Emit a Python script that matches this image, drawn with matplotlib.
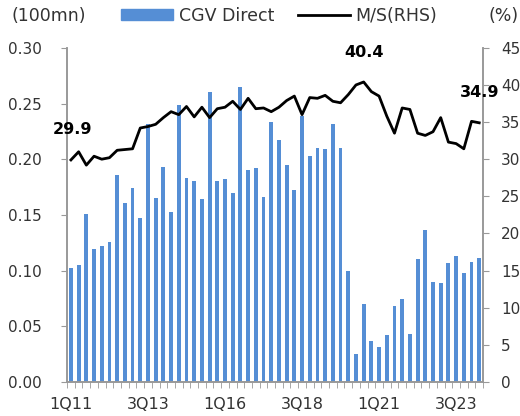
import numpy as np
import matplotlib
matplotlib.use("Agg")
import matplotlib.pyplot as plt
from matplotlib.lines import Line2D
from matplotlib.patches import Patch

plt.rcParams['font.family'] = ['DejaVu Sans']

# quarters 1Q11 .. 2Q24
start_year = 2011
n_q = 54
quarters = ['%dQ%02d' % (i % 4 + 1, (start_year + i // 4) % 100) for i in range(n_q)]

cgv_direct = [0.102, 0.105, 0.151, 0.119, 0.122, 0.126, 0.186, 0.161, 0.174, 0.147,
              0.232, 0.165, 0.193, 0.153, 0.249, 0.183, 0.180, 0.164, 0.260, 0.180,
              0.182, 0.170, 0.265, 0.190, 0.192, 0.166, 0.233, 0.217, 0.195, 0.172,
              0.239, 0.203, 0.210, 0.209, 0.232, 0.210, 0.100, 0.025, 0.070, 0.037,
              0.031, 0.042, 0.068, 0.074, 0.043, 0.110, 0.136, 0.090, 0.089, 0.107,
              0.113, 0.098, 0.108, 0.111]

ms = [29.9, 31.0, 29.2, 30.4, 30.0, 30.2, 31.2, 31.3, 31.4, 34.2,
      34.4, 34.7, 35.6, 36.4, 36.0, 37.1, 35.7, 37.0, 35.6, 36.8,
      37.0, 37.8, 36.7, 38.2, 36.8, 36.9, 36.4, 37.0, 37.9, 38.5,
      36.0, 38.3, 38.2, 38.6, 37.8, 37.6, 38.7, 40.0, 40.4, 39.1,
      38.5, 35.8, 33.5, 36.9, 36.7, 33.5, 33.2, 33.7, 35.6, 32.3,
      32.1, 31.4, 35.1, 34.9]

labels_shown = ['1Q11', '3Q13', '1Q16', '3Q18', '1Q21', '3Q23']

x = np.arange(n_q)
gray = '#999999'
blue = '#558ed5'
txt = '#333333'

fig = plt.figure(figsize=(5.2, 4.16), dpi=100)
ax = fig.add_axes([0.129, 0.082, 0.800, 0.803])
ax2 = ax.twinx()

ax.bar(x, cgv_direct, width=0.5, color=blue, zorder=2)
ax2.plot(x, ms, color='black', lw=2, solid_joinstyle='round', zorder=3)

ax.set_xlim(-0.5, n_q - 0.5)
ax.set_ylim(0, 0.30)
ax.set_yticks(np.arange(0, 0.301, 0.05))
ax.set_yticklabels(['%.2f' % v for v in np.arange(0, 0.301, 0.05)])
ax2.set_ylim(0, 45)
ax2.set_yticks(np.arange(0, 46, 5))

ticks = [quarters.index(q) for q in labels_shown]
ax.set_xticks(ticks)
ax.set_xticklabels(labels_shown)
ax.set_xticks(np.arange(-0.5, n_q, 1), minor=True)
ax.tick_params(axis='x', which='major', length=0, pad=11, labelsize=11.5, labelcolor=txt)
ax.tick_params(axis='x', which='minor', length=4, color=gray, direction='out')
ax.tick_params(axis='y', length=4, color=gray, labelsize=11, pad=14, labelcolor=txt)
ax2.tick_params(axis='y', length=4, color=gray, labelsize=11, pad=9, labelcolor=txt)

for a in (ax, ax2):
    a.spines['top'].set_visible(False)
    for s in ('left', 'right', 'bottom'):
        a.spines[s].set_color(gray)
        a.spines[s].set_linewidth(1.2)

ax2.text(0.2, 34.0, '29.9', ha='center', va='center', fontsize=11.5, fontweight='semibold')
ax2.text(38, 44.4, '40.4', ha='center', va='center', fontsize=11.5, fontweight='semibold')
ax2.text(53.0, 39.0, '34.9', ha='center', va='center', fontsize=11.5, fontweight='semibold')

fig.text(0.023, 0.962, '(100mn)', fontsize=12.5, va='center', ha='left', color=txt)
fig.text(0.998, 0.962, '(%)', fontsize=12.5, va='center', ha='right', color=txt)
handles = [Patch(color=blue), Line2D([], [], color='black', lw=2)]
leg = fig.legend(handles, ['CGV Direct', 'M/S(RHS)'], loc='center', bbox_to_anchor=(0.537, 0.962),
                 ncol=2, frameon=False, fontsize=12.5, handlelength=3.0, handleheight=0.6,
                 columnspacing=1.4, handletextpad=0.3)
for t in leg.get_texts():
    t.set_color(txt)

fig.savefig('out.png', dpi=100)
